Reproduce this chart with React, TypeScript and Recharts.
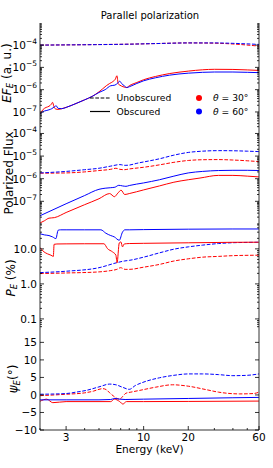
import React from 'react';
import { LineChart, Line, XAxis, YAxis } from 'recharts';

const FONT = '"DejaVu Sans", Verdana, sans-serif';
const RED = '#ff0000';
const BLUE = '#0000ff';
const FRAME = '#333';
const DASH = '3.7 1.6';

// ---------- x axis ----------
const X_DOMAIN = [2, 60];
const X_TICKS = [2, 3, 4, 5, 6, 7, 8, 9, 10, 20, 30, 40, 50, 60];
const X_LABELS = [3, 10, 20, 60];

// ---------- panel 1 : E F_E ----------
const EF_DOMAIN = [2.6e-8, 9.8e-4];
const EF_MAJOR = [1e-4, 1e-5, 1e-6, 1e-7];
const efUnobs30E = [2, 3, 5, 8, 12, 20, 30, 40, 60];
const efUnobs30 = [1e-4, 1.02e-4, 1.06e-4, 1.1e-4, 1.17e-4, 1.25e-4, 1.22e-4, 1.12e-4, 9e-5];
const efUnobs60E = [2, 3, 5, 8, 12, 20, 30, 40, 60];
const efUnobs60 = [1e-4, 1.02e-4, 1.05e-4, 1.1e-4, 1.17e-4, 1.25e-4, 1.25e-4, 1.2e-4, 1.07e-4];
const efObs30E = [2.0, 2.1, 2.2, 2.3, 2.38, 2.43, 2.48, 2.55, 2.65, 2.8, 3.0, 3.5, 4.0, 4.5, 5.0, 5.3, 5.6, 5.9, 6.2, 6.45, 6.6, 6.75, 6.9, 7.1, 7.4, 7.7, 8.0, 9.0, 10, 12, 15, 20, 25, 30, 40, 50, 60];
const efObs30 = [8e-8, 1.3e-7, 1.6e-7, 1.8e-7, 2.2e-7, 2.7e-7, 1.8e-7, 1.35e-7, 1.3e-7, 1.4e-7, 1.6e-7, 2.4e-7, 3.5e-7, 5e-7, 8e-7, 1.1e-6, 1.5e-6, 1.9e-6, 2.3e-6, 3e-6, 4.2e-6, 1.8e-6, 1.6e-6, 1.45e-6, 1.3e-6, 1.25e-6, 1.5e-6, 2.1e-6, 2.8e-6, 3.9e-6, 5.3e-6, 6.8e-6, 7.8e-6, 8.2e-6, 8.1e-6, 7.7e-6, 7.3e-6];
const efObs60E = [2.0, 2.1, 2.2, 2.3, 2.4, 2.5, 2.57, 2.65, 2.8, 3.0, 3.5, 4.0, 4.5, 5.0, 5.5, 6.0, 6.4, 6.7, 6.9, 7.1, 7.4, 7.7, 8.0, 9, 10, 12, 15, 20, 25, 30, 40, 50, 60];
const efObs60 = [8e-8, 1.05e-7, 1.15e-7, 1.25e-7, 1.4e-7, 1.7e-7, 1.9e-7, 1.45e-7, 1.4e-7, 1.6e-7, 2.4e-7, 3.5e-7, 5e-7, 7.5e-7, 1.0e-6, 1.5e-6, 1.6e-6, 2.0e-6, 2.4e-6, 1.9e-6, 1.5e-6, 1.25e-6, 1.35e-6, 1.9e-6, 2.5e-6, 3.4e-6, 4.5e-6, 5.5e-6, 6.0e-6, 6.2e-6, 6.2e-6, 6.0e-6, 5.8e-6];

// ---------- panel 2 : polarized flux ----------
const PF_DOMAIN = [8.1e-9, 2.37e-4];
const PF_MAJOR = [1e-4, 1e-5, 1e-6, 1e-7];
const pfUnobs30E = [2, 3, 4, 5, 6, 6.5, 6.9, 7.4, 8, 10, 12.8, 16, 20, 25, 32, 40, 50, 60];
const pfUnobs30 = [1.75e-6, 1.8e-6, 2.0e-6, 2.3e-6, 2.6e-6, 2.9e-6, 2.6e-6, 2.5e-6, 2.7e-6, 3.2e-6, 4.1e-6, 5.3e-6, 6.4e-6, 6.9e-6, 7.0e-6, 6.7e-6, 6.2e-6, 5.7e-6];
const pfUnobs60E = [2, 3, 4, 5, 6, 6.9, 7.5, 8, 9, 10, 12.8, 16, 20, 25, 32, 40, 50, 60];
const pfUnobs60 = [1.8e-6, 2.1e-6, 2.5e-6, 2.9e-6, 3.6e-6, 4.2e-6, 3.9e-6, 4.0e-6, 4.8e-6, 5.5e-6, 7.6e-6, 1.1e-5, 1.45e-5, 1.65e-5, 1.74e-5, 1.72e-5, 1.65e-5, 1.58e-5];
const pfObs30E = [2, 2.15, 2.3, 2.5, 3, 4, 5, 5.9, 6.35, 6.7, 7.05, 7.45, 8, 10, 12.8, 16, 20, 24, 32, 40, 50, 60];
const pfObs30 = [1.1e-8, 1.4e-8, 1.8e-8, 1.9e-8, 3.2e-8, 7.1e-8, 1.3e-7, 2.2e-7, 1.6e-7, 2.3e-7, 3.1e-7, 2.0e-7, 2.2e-7, 3.2e-7, 4.8e-7, 7e-7, 9e-7, 1.07e-6, 1.4e-6, 1.4e-6, 1.3e-6, 1.2e-6];
const pfObs60E = [2, 3, 4, 5, 5.5, 6.0, 6.4, 6.8, 7.2, 7.6, 8, 10, 12.8, 16, 20, 25, 32, 40, 50, 60];
const pfObs60 = [2.3e-8, 7.8e-8, 1.8e-7, 3.4e-7, 3.8e-7, 4.0e-7, 4.2e-7, 5.1e-7, 4.8e-7, 4.6e-7, 5.0e-7, 6.5e-7, 9e-7, 1.3e-6, 1.8e-6, 2.1e-6, 2.3e-6, 2.35e-6, 2.35e-6, 2.3e-6];

// ---------- panel 3 : P_E (%) ----------
const PE_DOMAIN = [0.055, 45];
const PE_MAJOR = [0.1, 1, 10];
const PE_LABELS = ['0.1', '1.0', '10.0'];
const peUnobs30E = [2, 3, 5, 6, 6.6, 7.0, 7.5, 8, 10, 12.8, 16, 20, 25, 32, 40, 60];
const peUnobs30 = [1.97, 2.05, 2.2, 2.4, 2.6, 2.9, 2.6, 2.6, 3.0, 3.6, 4.5, 5.2, 5.8, 6.1, 6.4, 6.6];
const peUnobs60E = [2, 3, 5, 6.55, 7.4, 8, 10, 12.8, 16, 20, 25, 32, 40, 50, 60];
const peUnobs60 = [2.1, 2.3, 2.9, 4.0, 4.5, 4.7, 5.8, 7.7, 9.8, 11.4, 12.8, 14.2, 15, 15.3, 15.5];
const peObs30E = [2, 2.13, 2.25, 2.37, 2.46, 2.49, 2.6, 3, 4, 5.4, 5.7, 6.17, 6.5, 6.62, 6.85, 7.03, 7.2, 7.4, 8, 10, 20, 40, 60];
const peObs30 = [11, 8.2, 7.2, 6.6, 6.1, 13.5, 13.8, 13.9, 14, 14, 10.2, 8.2, 6.6, 4.0, 14.8, 15.8, 11.4, 13.8, 14.2, 14.4, 14.9, 15.4, 15.5];
const peObs60E = [2, 2.15, 2.3, 2.43, 2.56, 2.65, 2.75, 3, 4, 5.15, 5.56, 6.0, 6.34, 6.85, 7.2, 7.47, 8, 10, 20, 40, 60];
const peObs60 = [27, 25, 24, 22, 19.6, 34, 35, 35, 35, 35, 28, 24, 22, 17.6, 30, 35, 35, 35.5, 36.5, 37, 37];

// ---------- panel 4 : psi_E ----------
const PSI_DOMAIN = [-10, 19.1];
const PSI_MAJOR = [-10, -5, 0, 5, 10, 15];
const PSI_LABELS = ['\u221210', '\u22125', '0', '5', '10', '15'];
const psiUnobs30E = [2, 3, 4, 4.6, 5.0, 5.3, 5.6, 5.9, 6.3, 6.6, 6.9, 7.2, 7.6, 8.2, 9.4, 12, 15.7, 20, 26.5, 32, 44.5, 55, 60];
const psiUnobs30 = [-0.2, 0.2, 0.6, 1.1, 1.6, 1.8, 1.5, 0.6, -0.4, -1.0, -1.2, -0.5, 0.5, 0.8, 1.3, 2.2, 2.9, 2.5, 1.5, 0.8, 0.3, 0.4, 0.8];
const psiUnobs60E = [2, 3, 3.5, 4.1, 5, 5.9, 6.5, 7.2, 8.0, 8.8, 9.9, 12.8, 16, 20, 25, 32, 40, 50, 60];
const psiUnobs60 = [0.2, 0.4, 0.8, 1.3, 2.3, 3.1, 2.9, 2.2, 1.6, 2.7, 3.6, 4.9, 5.6, 6.0, 6.0, 5.8, 5.5, 5.6, 6.0];
const psiObs30E = [2, 2.22, 2.44, 3, 6.0, 6.35, 6.9, 7.25, 7.65, 10, 20, 60];
const psiObs30 = [-1.8, -1.2, -2.2, -1.9, -1.9, -1.2, -1.9, -2.6, -1.9, -1.9, -1.85, -1.75];
const psiObs60E = [2, 3, 5, 6.0, 6.4, 6.9, 7.5, 10, 20, 40, 60];
const psiObs60 = [-1.4, -1.4, -1.4, -1.3, -1.0, -1.2, -1.3, -1.2, -1.0, -0.8, -0.7];

// ---------- helpers ----------
const zip = (e: number[], v: number[]) => e.map((x, i) => ({ e: x, v: v[i] }));

function logTicks(lo: number, hi: number) {
  const out: number[] = [];
  for (let d = Math.floor(Math.log10(lo)); d <= Math.ceil(Math.log10(hi)); d++) {
    for (let k = 1; k < 10; k++) {
      const v = k * Math.pow(10, d);
      if (v >= lo && v <= hi) out.push(v);
    }
  }
  return out;
}

const near = (a: number, b: number) => Math.abs(a - b) <= Math.abs(b) * 1e-6 + 1e-12;
const TM = 3;

type Kind = 'pow' | 'list';

function makeLeftTick(kind: Kind, majors: number[], labels?: string[]) {
  return (props: any) => {
    const { x, y, payload } = props;
    const v = payload.value as number;
    const idx = majors.findIndex((m) => near(v, m));
    const major = idx >= 0;
    const ax = x + TM;
    const len = major ? 4 : 2;
    let label: any = null;
    if (major) {
      if (kind === 'pow') {
        const p = Math.round(Math.log10(v));
        label = (
          <text x={x} y={y + 3.8} textAnchor="end" fontSize={10.5} fontFamily={FONT} fill="#000">
            <tspan>10</tspan>
            <tspan dy={-5} fontSize={7.5}>{(p < 0 ? '\u2212' : '') + Math.abs(p)}</tspan>
          </text>
        );
      } else {
        label = (
          <text x={x} y={y + 3.8} textAnchor="end" fontSize={10.5} fontFamily={FONT} fill="#000">
            {labels ? labels[idx] : String(v)}
          </text>
        );
      }
    }
    return (
      <g>
        <line x1={ax} x2={ax + len} y1={y} y2={y} stroke="#000" strokeWidth={0.8} />
        {label}
      </g>
    );
  };
}

function makeRightTick(majors: number[]) {
  return (props: any) => {
    const { x, y, payload } = props;
    const major = majors.some((m) => near(payload.value, m));
    const ax = x - TM;
    const len = major ? 4 : 2;
    return <line x1={ax} x2={ax - len} y1={y} y2={y} stroke="#000" strokeWidth={0.8} />;
  };
}

function makeBottomTick(showLabels: boolean) {
  return (props: any) => {
    const { x, y, payload } = props;
    const v = payload.value as number;
    const major = X_LABELS.includes(v);
    const ay = y - TM;
    const len = major ? 4 : 2;
    return (
      <g>
        <line x1={x} x2={x} y1={ay} y2={ay - len} stroke="#000" strokeWidth={0.8} />
        {showLabels && major ? (
          <text x={x} y={y + 8} textAnchor="middle" fontSize={10.5} fontFamily={FONT} fill="#000">
            {String(v)}
          </text>
        ) : null}
      </g>
    );
  };
}

function makeTopTick() {
  return (props: any) => {
    const { x, y, payload } = props;
    const major = X_LABELS.includes(payload.value);
    const ay = y + TM;
    const len = major ? 4 : 2;
    return <line x1={x} x2={x} y1={ay} y2={ay + len} stroke="#000" strokeWidth={0.8} />;
  };
}

type Series = { data: { e: number; v: number }[]; color: string; dashed: boolean };

type PanelCfg = {
  top: number;
  bottom: number;
  domain: number[];
  log: boolean;
  yTicks: number[];
  majors: number[];
  kind: Kind;
  labels?: string[];
  series: Series[];
};

const PAD = 8;

function Panel({ cfg, last }: { cfg: PanelCfg; last: boolean }) {
  const plotH = cfg.bottom - cfg.top;
  const xH = last ? 40 : 0;
  const height = PAD + plotH + (last ? xH : PAD);
  const yScale = cfg.log ? 'log' : 'linear';
  return (
    <div style={{ position: 'absolute', left: 0, top: cfg.top - PAD }}>
      <LineChart width={273} height={height} margin={{ top: PAD, right: 0, bottom: last ? 0 : PAD, left: 0 }}>
        <XAxis
          xAxisId="b"
          dataKey="e"
          type="number"
          scale="log"
          domain={X_DOMAIN}
          ticks={X_TICKS}
          interval={0}
          allowDataOverflow
          orientation="bottom"
          height={xH}
          tickSize={0}
          tickMargin={TM}
          tickLine={false}
          axisLine={{ stroke: FRAME, strokeWidth: 1 }}
          tick={makeBottomTick(last)}
        />
        <XAxis
          xAxisId="t"
          dataKey="e"
          type="number"
          scale="log"
          domain={X_DOMAIN}
          ticks={X_TICKS}
          interval={0}
          allowDataOverflow
          orientation="top"
          height={0}
          tickSize={0}
          tickMargin={TM}
          tickLine={false}
          axisLine={{ stroke: FRAME, strokeWidth: 1 }}
          tick={makeTopTick()}
        />
        <YAxis
          yAxisId="l"
          type="number"
          scale={yScale}
          domain={cfg.domain}
          ticks={cfg.yTicks}
          interval={0}
          allowDataOverflow
          width={40}
          tickSize={0}
          tickMargin={TM}
          tickLine={false}
          axisLine={{ stroke: FRAME, strokeWidth: 1 }}
          tick={makeLeftTick(cfg.kind, cfg.majors, cfg.labels)}
        />
        <YAxis
          yAxisId="r"
          orientation="right"
          type="number"
          scale={yScale}
          domain={cfg.domain}
          ticks={cfg.yTicks}
          interval={0}
          allowDataOverflow
          width={14}
          tickSize={0}
          tickMargin={TM}
          tickLine={false}
          axisLine={{ stroke: FRAME, strokeWidth: 1 }}
          tick={makeRightTick(cfg.majors)}
        />
        {cfg.series.map((s, i) => (
          <Line
            key={i}
            xAxisId="b"
            yAxisId="l"
            data={s.data}
            dataKey="v"
            type="monotone"
            stroke={s.color}
            strokeWidth={1}
            strokeDasharray={s.dashed ? DASH : undefined}
            dot={false}
            activeDot={false}
            isAnimationActive={false}
          />
        ))}
      </LineChart>
    </div>
  );
}

const panels: PanelCfg[] = [
  {
    top: 23,
    bottom: 125,
    domain: EF_DOMAIN,
    log: true,
    yTicks: logTicks(EF_DOMAIN[0], EF_DOMAIN[1]),
    majors: EF_MAJOR,
    kind: 'pow',
    series: [
      { data: zip(efUnobs30E, efUnobs30), color: RED, dashed: true },
      { data: zip(efUnobs60E, efUnobs60), color: BLUE, dashed: true },
      { data: zip(efObs30E, efObs30), color: RED, dashed: false },
      { data: zip(efObs60E, efObs60), color: BLUE, dashed: false },
    ],
  },
  {
    top: 125,
    bottom: 226,
    domain: PF_DOMAIN,
    log: true,
    yTicks: logTicks(PF_DOMAIN[0], PF_DOMAIN[1]),
    majors: PF_MAJOR,
    kind: 'pow',
    series: [
      { data: zip(pfUnobs30E, pfUnobs30), color: RED, dashed: true },
      { data: zip(pfUnobs60E, pfUnobs60), color: BLUE, dashed: true },
      { data: zip(pfObs30E, pfObs30), color: RED, dashed: false },
      { data: zip(pfObs60E, pfObs60), color: BLUE, dashed: false },
    ],
  },
  {
    top: 226,
    bottom: 328,
    domain: PE_DOMAIN,
    log: true,
    yTicks: logTicks(PE_DOMAIN[0], PE_DOMAIN[1]),
    majors: PE_MAJOR,
    kind: 'list',
    labels: PE_LABELS,
    series: [
      { data: zip(peUnobs30E, peUnobs30), color: RED, dashed: true },
      { data: zip(peUnobs60E, peUnobs60), color: BLUE, dashed: true },
      { data: zip(peObs30E, peObs30), color: RED, dashed: false },
      { data: zip(peObs60E, peObs60), color: BLUE, dashed: false },
    ],
  },
  {
    top: 328,
    bottom: 430,
    domain: PSI_DOMAIN,
    log: false,
    yTicks: PSI_MAJOR,
    majors: PSI_MAJOR,
    kind: 'list',
    labels: PSI_LABELS,
    series: [
      { data: zip(psiUnobs30E, psiUnobs30), color: RED, dashed: true },
      { data: zip(psiUnobs60E, psiUnobs60), color: BLUE, dashed: true },
      { data: zip(psiObs30E, psiObs30), color: RED, dashed: false },
      { data: zip(psiObs60E, psiObs60), color: BLUE, dashed: false },
    ],
  },
];

function Overlay() {
  return (
    <svg
      width={273}
      height={468}
      style={{ position: 'absolute', left: 0, top: 0, pointerEvents: 'none' }}
      fontFamily={FONT}
      fill="#000"
    >
      <text x={150} y={18.5} textAnchor="middle" fontSize={10}>
        Parallel polarization
      </text>
      <text transform="translate(10.5,73) rotate(-90)" textAnchor="middle" fontSize={12}>
        <tspan fontStyle="italic">EF</tspan>
        <tspan fontStyle="italic" fontSize={8.5} dy={2.5}>E</tspan>
        <tspan dy={-2.5}> (a. u.)</tspan>
      </text>
      <text transform="translate(12.5,173) rotate(-90)" textAnchor="middle" fontSize={12}>
        Polarized Flux
      </text>
      <text transform="translate(14.5,278) rotate(-90)" textAnchor="middle" fontSize={12}>
        <tspan fontStyle="italic">P</tspan>
        <tspan fontStyle="italic" fontSize={8.5} dy={2.5}>E</tspan>
        <tspan dy={-2.5}> (%)</tspan>
      </text>
      <text transform="translate(17,379) rotate(-90)" textAnchor="middle" fontSize={12}>
        <tspan fontStyle="italic">ψ</tspan>
        <tspan fontStyle="italic" fontSize={8.5} dy={2.5}>E</tspan>
        <tspan dy={-2.5}>(°)</tspan>
      </text>
      <text x={149.5} y={452.5} textAnchor="middle" fontSize={10.6}>
        Energy (keV)
      </text>
      {/* legend */}
      <line x1={90} x2={110} y1={98} y2={98} stroke="#000" strokeWidth={1.2} strokeDasharray={DASH} />
      <text x={116.5} y={101.3} fontSize={9.2}>Unobscured</text>
      <line x1={90} x2={110} y1={111.5} y2={111.5} stroke="#000" strokeWidth={1.2} />
      <text x={116.5} y={114.8} fontSize={9.2}>Obscured</text>
      <circle cx={199} cy={98} r={3} fill={RED} />
      <text x={213} y={101.3} fontSize={9.2}>
        <tspan fontStyle="italic">θ</tspan> = 30°
      </text>
      <circle cx={199} cy={111.5} r={3} fill={BLUE} />
      <text x={213} y={114.8} fontSize={9.2}>
        <tspan fontStyle="italic">θ</tspan> = 60°
      </text>
    </svg>
  );
}

export default function App() {
  return (
    <div style={{ position: 'absolute', left: 0, top: 0, width: 273, height: 468, background: '#fff', fontFamily: FONT }}>
      {panels.map((p, i) => (
        <Panel key={i} cfg={p} last={i === panels.length - 1} />
      ))}
      <Overlay />
    </div>
  );
}
